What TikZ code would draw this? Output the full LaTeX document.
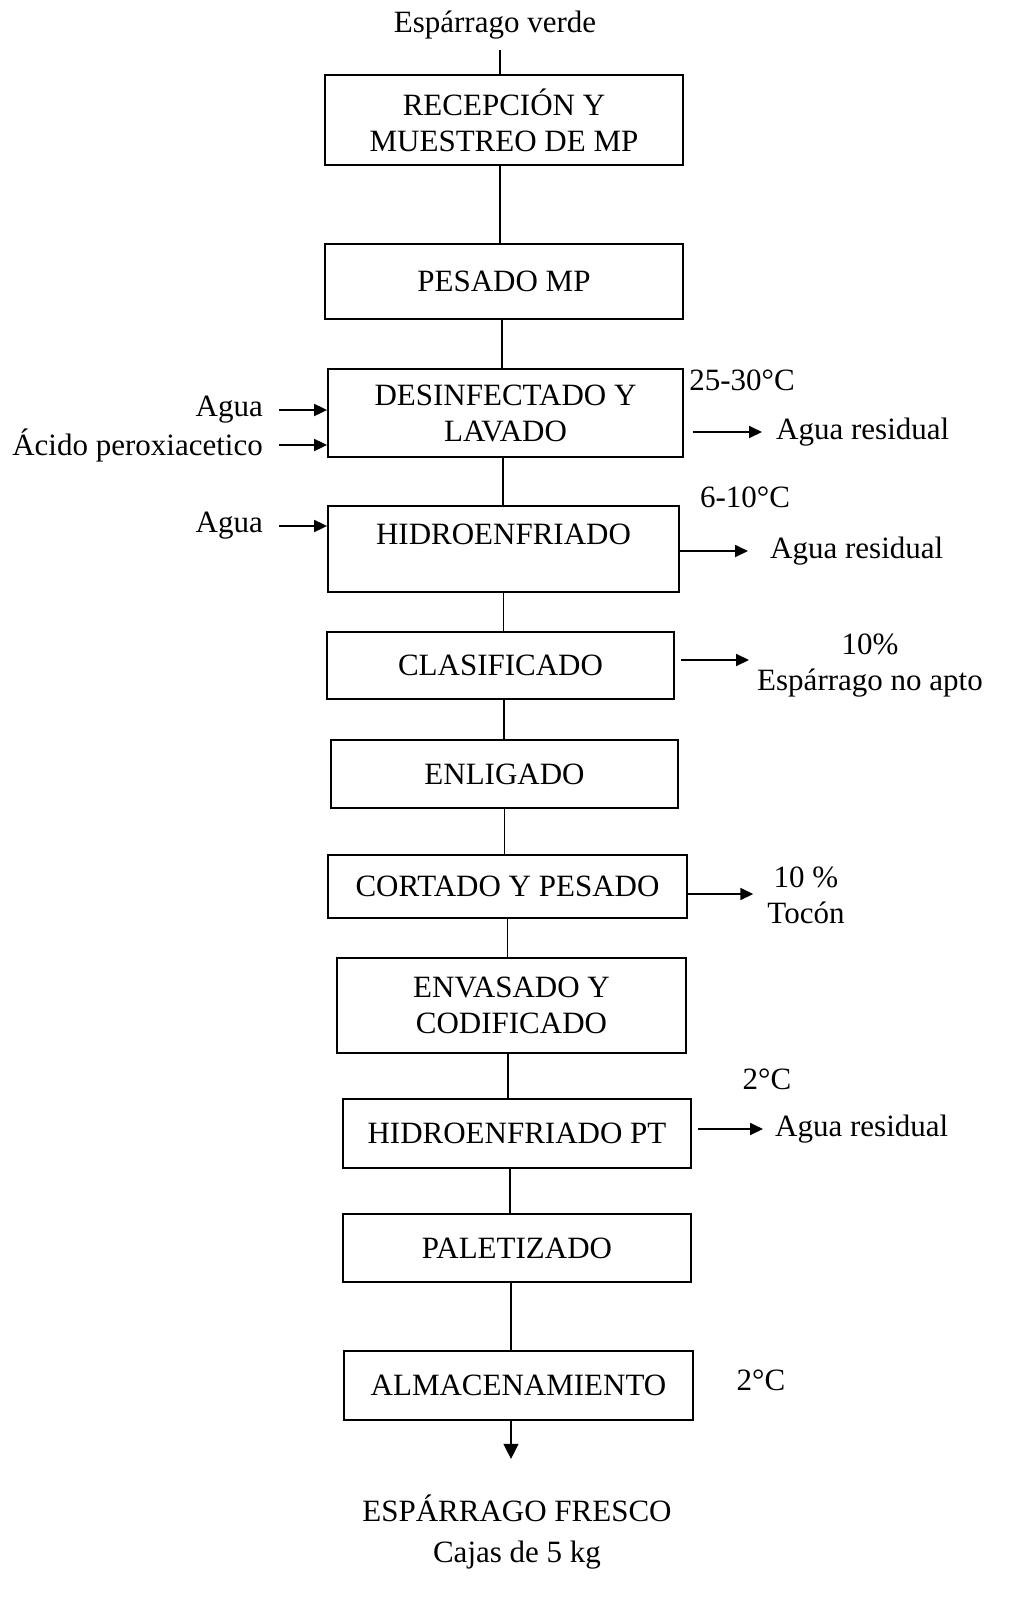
\documentclass[tikz,border=0pt]{standalone}
\usepackage{fontspec}
\setmainfont{Liberation Serif}
\usetikzlibrary{arrows.meta,calc}
\begin{document}
\begin{tikzpicture}[x=1pt,y=-1pt,
  every node/.style={font=\fontsize{31}{36}\selectfont, inner sep=4pt},
  box/.style={draw, line width=1.8pt, align=center},
  conn/.style={line width=1.1pt},
  arr/.style={line width=1.8pt, -{Triangle[length=13pt,width=12pt]}},
  lbl/.style={align=center}]
\useasboundingbox (0,0) rectangle (1011,1601);
% boxes
\node[box, minimum width=358, minimum height=90] (b1) at (504,120) {RECEPCIÓN Y\\MUESTREO DE MP};
\node[box, minimum width=358, minimum height=75] (b2) at (504,281.5) {PESADO MP};
\node[box, minimum width=355, minimum height=88] (b3) at (505.5,413) {DESINFECTADO Y\\LAVADO};
\node[box, minimum width=351, minimum height=86, text depth=30pt] (b4) at (503.5,549) {HIDROENFRIADO};
\node[box, minimum width=347, minimum height=67] (b5) at (500.5,665.5) {CLASIFICADO};
\node[box, minimum width=347, minimum height=68] (b6) at (504.5,774) {ENLIGADO};
\node[box, minimum width=359, minimum height=63] (b7) at (507.5,886.5) {CORTADO Y PESADO};
\node[box, minimum width=349, minimum height=95] (b8) at (511.5,1005.5) {ENVASADO Y\\CODIFICADO};
\node[box, minimum width=348, minimum height=69] (b9) at (517,1133.5) {HIDROENFRIADO PT};
\node[box, minimum width=348, minimum height=68] (b10) at (517,1248) {PALETIZADO};
\node[box, minimum width=349, minimum height=69] (b11) at (518.5,1385.5) {ALMACENAMIENTO};
% top and bottom
\node (top) at (495,25) {Espárrago verde};
\coordinate (tin) at (500,50);
\node[lbl] (fin) at (517,1532) {ESPÁRRAGO FRESCO\\[5pt]Cajas de 5 kg};
% temperatures
\node (t1) at (742,380) {25-30°C};
\node (t2) at (745,497) {6-10°C};
\node (t3) at (767,1079) {2°C};
\node (t4) at (761,1380) {2°C};
% inputs
\node[anchor=east] (in1) at (267,410) {Agua};
\node[anchor=east] (in2) at (267,445) {Ácido peroxiacetico};
\node[anchor=east] (in3) at (267,526) {Agua};
% outputs
\node[anchor=west] (o1) at (772,432) {Agua residual};
\node[anchor=west] (o2) at (766,551) {Agua residual};
\node[lbl] (o3) at (870,666) {10\%\\Espárrago no apto};
\node[lbl] (o4) at (806,895) {10 \%\\Tocón};
\node[anchor=west] (o5) at (771,1129) {Agua residual};
% vertical connectors
\draw[conn] (tin) -- (tin |- b1.north);
\draw[conn] ([xshift=-4pt]b1.south) -- ([xshift=-4pt]b1.south |- b2.north);
\draw[conn] ([xshift=-2pt]b2.south) -- ([xshift=-2pt]b2.south |- b3.north);
\draw[conn] ([xshift=-2.5pt]b3.south) -- ([xshift=-2.5pt]b3.south |- b4.north);
\draw[conn] (b4.south) -- (b4.south |- b5.north);
\draw[conn] ([xshift=3.5pt]b5.south) -- ([xshift=3.5pt]b5.south |- b6.north);
\draw[conn] (b6.south) -- (b6.south |- b7.north);
\draw[conn] (b7.south) -- (b7.south |- b8.north);
\draw[conn] ([xshift=-3.5pt]b8.south) -- ([xshift=-3.5pt]b8.south |- b9.north);
\draw[conn] ([xshift=-7pt]b9.south) -- ([xshift=-7pt]b9.south |- b10.north);
\draw[conn] ([xshift=-6pt]b10.south) -- ([xshift=-6pt]b10.south |- b11.north);
\draw[conn, -{Triangle[length=15pt,width=15pt]}] ([xshift=-7.5pt]b11.south) -- ([xshift=-7.5pt,yshift=-38pt]b11.south);
% input arrows
\draw[arr] ([xshift=12pt]in1.east) -- (in1.east -| b3.west);
\draw[arr] ([xshift=12pt]in2.east) -- (in2.east -| b3.west);
\draw[arr] ([xshift=12pt]in3.east) -- (in3.east -| b4.west);
% output arrows
\draw[arr] ([xshift=9pt]b3.east |- o1.west) -- ([xshift=-10pt]o1.west);
\draw[arr] (b4.east |- o2.west) -- ([xshift=-18pt]o2.west);
\draw[arr] ([xshift=6pt,yshift=5.5pt]b5.east) -- ([xshift=-4pt,yshift=5.5pt]b5.east -| o3.west);
\draw[arr] ([yshift=-7.5pt]b7.east) -- ([xshift=-10pt,yshift=-7.5pt]b7.east -| o4.west);
\draw[arr] ([xshift=6pt]b9.east |- o5.west) -- ([xshift=-8pt]o5.west);
\end{tikzpicture}
\end{document}
